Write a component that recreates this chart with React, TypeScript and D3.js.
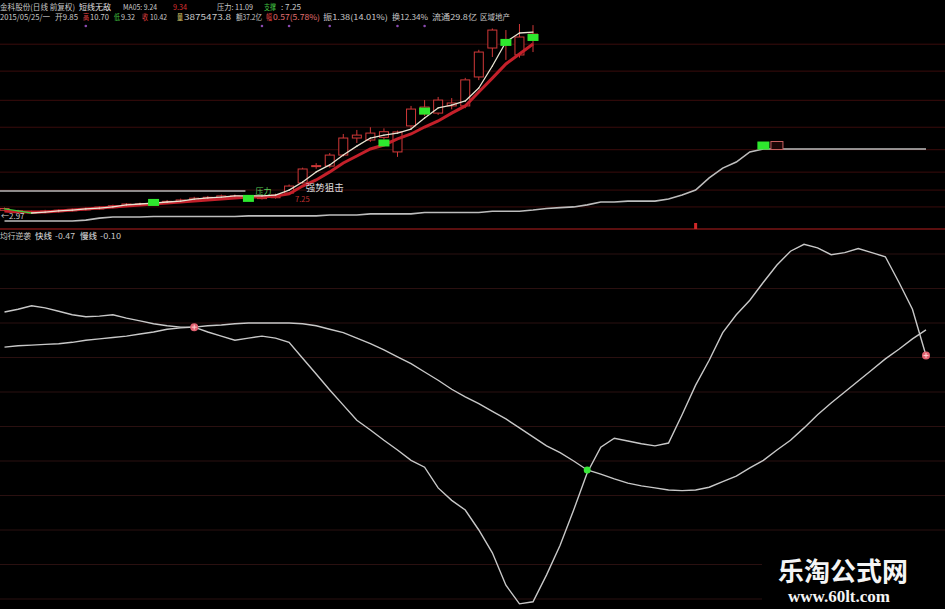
import React, { useRef, useEffect } from 'react';
import * as d3 from 'd3';

// 日K线 (前复权)
const candleOpen = [
  3.30, 3.22, 3.18, 3.22, 3.24, 3.28, 3.32, 3.36, 3.42, 3.48,
  3.52, 3.56, 3.62, 3.68, 3.74, 3.82, 3.86, 3.88, 3.84, 3.82,
  3.86, 4.07, 4.52, 5.25, 5.27, 5.76, 6.52, 6.43, 6.55, 5.90,
  7.06, 7.60, 7.63, 7.95, 7.95, 9.24, 10.53, 10.70, 10.22, 11.05,
];
const candleHigh = [
  3.42, 3.32, 3.28, 3.32, 3.34, 3.38, 3.42, 3.48, 3.55, 3.62,
  3.64, 3.70, 3.76, 3.82, 3.90, 3.94, 4.00, 4.00, 3.96, 3.94,
  4.04, 4.45, 5.20, 5.40, 5.85, 6.70, 6.88, 7.00, 6.95, 6.85,
  7.95, 8.21, 8.35, 8.30, 9.20, 10.45, 11.40, 11.33, 11.60, 11.55,
];
const candleLow = [
  3.26, 3.18, 3.14, 3.19, 3.20, 3.25, 3.29, 3.33, 3.39, 3.45,
  3.49, 3.52, 3.58, 3.64, 3.70, 3.78, 3.82, 3.84, 3.80, 3.78,
  3.82, 4.00, 4.48, 5.15, 5.20, 5.70, 6.30, 6.35, 6.45, 5.68,
  6.95, 7.50, 7.55, 7.80, 7.85, 9.10, 10.13, 10.00, 10.10, 10.35,
];
const candleClose = [
  3.38, 3.28, 3.24, 3.27, 3.30, 3.34, 3.38, 3.44, 3.50, 3.58,
  3.58, 3.64, 3.70, 3.76, 3.84, 3.88, 3.94, 3.94, 3.90, 3.88,
  3.98, 4.38, 5.14, 5.29, 5.76, 6.52, 6.65, 6.74, 6.80, 6.79,
  7.81, 7.90, 8.21, 8.08, 9.11, 10.35, 11.33, 10.90, 11.02, 11.15,
];

// 均线
const maFast = [
  3.36, 3.27, 3.18, 3.22, 3.27, 3.31, 3.36, 3.40, 3.45, 3.54,
  3.58, 3.62, 3.67, 3.71, 3.80, 3.85, 3.89, 3.94, 3.94, 3.94,
  3.98, 4.20, 4.56, 5.01, 5.32, 5.76, 6.16, 6.52, 6.65, 6.74,
  6.92, 7.41, 7.86, 7.99, 8.17, 8.75, 9.73, 10.80, 11.20, 11.24,
];
const maSlow = [
  3.27, 3.22, 3.22, 3.22, 3.27, 3.31, 3.36, 3.40, 3.45, 3.49,
  3.54, 3.58, 3.62, 3.67, 3.71, 3.76, 3.80, 3.85, 3.89, 3.89,
  3.94, 4.03, 4.38, 4.65, 5.01, 5.41, 5.72, 6.03, 6.21, 6.48,
  6.70, 7.01, 7.28, 7.63, 7.95, 8.57, 9.19, 9.82, 10.26, 10.71,
];

// 灰色趋势线
const trendLine = [
  2.82, 2.82, 2.82, 2.82, 2.82, 2.82, 2.86, 2.95, 3.00, 3.00,
  3.00, 3.02, 3.02, 3.02, 3.02, 3.02, 3.02, 3.02, 3.05, 3.05,
  3.05, 3.05, 3.05, 3.05, 3.09, 3.09, 3.09, 3.14, 3.14, 3.14,
  3.14, 3.20, 3.20, 3.20, 3.20, 3.20, 3.26, 3.26, 3.26, 3.31,
  3.38, 3.42, 3.45, 3.54, 3.67, 3.67, 3.71, 3.71, 3.71, 3.80,
  3.98, 4.20, 4.74, 5.18, 5.45, 5.90, 6.03, 6.03, 6.03, 6.03,
  6.03, 6.03, 6.03, 6.03, 6.03, 6.03, 6.03, 6.03, 6.03,
];

const levelPrice = 4.16;
const levelEndBar = 18;
const gridPrices = [10.7, 9.5, 8.2, 7.0, 6.0, 5.0, 4.2, 3.45];

const signalBars = [11, 18, 28, 31, 37, 39];
const signalPrices = [3.65, 3.83, 6.30, 7.72, 10.78, 11.0];
const trendBuyBars = [56];
const trendHoldBars = [57];
const alertBars = [51];
const topDotBars = [6, 19, 21, 24, 29, 31];

// 均行逆袭 快线 / 慢线
const fastLine = [
  0.16, 0.20, 0.25, 0.22, 0.17, 0.12, 0.09, 0.10, 0.12, 0.07,
  0.03, -0.01, -0.04, -0.06, -0.06, -0.13, -0.19, -0.25, -0.22, -0.19,
  -0.22, -0.28, -0.51, -0.74, -0.97, -1.19, -1.41, -1.55, -1.70, -1.84,
  -1.99, -2.09, -2.39, -2.57, -2.71, -3.00, -3.33, -3.80, -4.07, -4.04,
  -3.65, -3.22, -2.71, -2.17, -1.80, -1.67, -1.71, -1.75, -1.78, -1.74,
  -1.33, -0.90, -0.54, -0.14, 0.12, 0.33, 0.59, 0.84, 1.04, 1.14,
  1.09, 0.99, 1.02, 1.08, 1.02, 0.96, 0.59, 0.20, -0.47,
];
const slowLine = [
  -0.35, -0.33, -0.32, -0.31, -0.30, -0.28, -0.25, -0.23, -0.21, -0.19,
  -0.16, -0.13, -0.09, -0.07, -0.06, -0.04, -0.03, -0.01, 0.00, 0.00,
  0.00, 0.00, -0.01, -0.04, -0.09, -0.14, -0.22, -0.30, -0.39, -0.49,
  -0.59, -0.71, -0.83, -0.96, -1.07, -1.17, -1.28, -1.39, -1.52, -1.65,
  -1.78, -1.88, -2.00, -2.13, -2.19, -2.26, -2.32, -2.36, -2.39, -2.42,
  -2.43, -2.42, -2.38, -2.30, -2.22, -2.10, -1.99, -1.84, -1.70, -1.52,
  -1.33, -1.16, -1.00, -0.84, -0.68, -0.52, -0.38, -0.23, -0.10,
];
const indicatorTicks = [1, 0.5, 0, -0.5, -1, -1.5, -2, -2.5, -3, -3.5, -4];
const goldCrossBars = [43];
const deadCrossBars = [14, 68];

const W = 945;
const H = 609;
const CJK = '"Noto Sans CJK SC", "Noto Sans", sans-serif';

const App: React.FC = () => {
  const svgRef = useRef<SVGSVGElement>(null);

  useEffect(() => {
    document.body.style.margin = '0';
    document.body.style.background = '#000';
    if (!svgRef.current) return;
    const svg = d3.select(svgRef.current);
    svg.selectAll('*').remove();

    const x = d3.scaleLinear().domain([0, 68]).range([4.5, 926]);
    const yPrice = d3.scaleLinear().domain([2.6, 11.6]).range([226, 24]);
    const yInd = d3.scaleLinear().domain([-4, 1]).range([599, 254]);

    svg.append('rect').attr('width', W).attr('height', H).attr('fill', '#000');

    // grid lines (top)
    svg.append('g')
      .selectAll('line')
      .data(gridPrices)
      .join('line')
      .attr('x1', 0).attr('x2', W)
      .attr('y1', d => yPrice(d)).attr('y2', d => yPrice(d))
      .attr('stroke', '#3a0c0c')
      .attr('stroke-width', 1);

    // grid lines (bottom)
    svg.append('g')
      .selectAll('line')
      .data(indicatorTicks)
      .join('line')
      .attr('x1', 0).attr('x2', W)
      .attr('y1', d => yInd(d)).attr('y2', d => yInd(d))
      .attr('stroke', '#2a1010')
      .attr('stroke-width', 1);

    // panel separator
    svg.append('line')
      .attr('x1', 0).attr('x2', W)
      .attr('y1', 229).attr('y2', 229)
      .attr('stroke', '#7a1414')
      .attr('stroke-width', 1.5);

    const top = svg.append('g');

    // level line + trend line
    top.append('line')
      .attr('x1', 0).attr('x2', x(levelEndBar) - 3)
      .attr('y1', yPrice(levelPrice)).attr('y2', yPrice(levelPrice))
      .attr('stroke', '#b8b8b8')
      .attr('stroke-width', 1.5);

    const priceLine = d3.line<number>()
      .x((_, i) => x(i))
      .y(d => yPrice(d));

    top.append('path')
      .datum(trendLine)
      .attr('d', priceLine)
      .attr('fill', 'none')
      .attr('stroke', '#bdbdbd')
      .attr('stroke-width', 1.6);

    // candles
    const bodyW = 9;
    candleOpen.forEach((o, i) => {
      const c = candleClose[i];
      const cx = x(i);
      const yTop = yPrice(Math.max(o, c));
      const yBot = yPrice(Math.min(o, c));
      const color = '#d03838';
      top.append('line')
        .attr('x1', cx).attr('x2', cx)
        .attr('y1', yPrice(candleHigh[i])).attr('y2', yTop)
        .attr('stroke', color);
      top.append('line')
        .attr('x1', cx).attr('x2', cx)
        .attr('y1', yBot).attr('y2', yPrice(candleLow[i]))
        .attr('stroke', color);
      top.append('rect')
        .attr('x', cx - bodyW / 2)
        .attr('y', yTop)
        .attr('width', bodyW)
        .attr('height', Math.max(1, yBot - yTop))
        .attr('fill', c >= o ? '#000' : color)
        .attr('stroke', color)
        .attr('stroke-width', 1);
    });

    // slow MA (thick red)
    top.append('path')
      .datum(maSlow)
      .attr('d', priceLine)
      .attr('fill', 'none')
      .attr('stroke', '#c4202a')
      .attr('stroke-width', 3);

    // fast MA (white, green when falling)
    maFast.slice(1).forEach((v, k) => {
      const prev = maFast[k];
      top.append('line')
        .attr('x1', x(k)).attr('y1', yPrice(prev))
        .attr('x2', x(k + 1)).attr('y2', yPrice(v))
        .attr('stroke', v < prev ? '#3ccf3c' : '#e8e4d2')
        .attr('stroke-width', 1.3)
        .attr('stroke-linecap', 'round');
    });

    // signal boxes
    signalBars.forEach((b, k) => {
      top.append('rect')
        .attr('x', x(b) - 5.5)
        .attr('y', yPrice(signalPrices[k]) - 3.5)
        .attr('width', 11)
        .attr('height', 7)
        .attr('fill', '#2ee82e');
    });
    trendBuyBars.forEach(b => {
      top.append('rect')
        .attr('x', x(b) - 6).attr('y', yPrice(trendLine[b]) - 7.5)
        .attr('width', 12).attr('height', 8)
        .attr('fill', '#2ee82e');
    });
    trendHoldBars.forEach(b => {
      top.append('rect')
        .attr('x', x(b) - 6).attr('y', yPrice(trendLine[b]) - 7.5)
        .attr('width', 12).attr('height', 8)
        .attr('fill', '#1a0606')
        .attr('stroke', '#c86060');
    });
    alertBars.forEach(b => {
      top.append('rect')
        .attr('x', x(b) - 1.5).attr('y', 223)
        .attr('width', 3).attr('height', 6)
        .attr('fill', '#d02828');
    });
    topDotBars.forEach(b => {
      top.append('circle')
        .attr('cx', x(b)).attr('cy', 26)
        .attr('r', 1.3)
        .attr('fill', '#8a4ab0');
    });

    // small labels
    top.append('text')
      .attr('x', x(22) + 3).attr('y', 191)
      .attr('font-family', CJK).attr('font-size', 9.5)
      .attr('fill', '#dcdcdc')
      .text('强势狙击');
    top.append('text')
      .attr('x', x(18) + 7).attr('y', 194)
      .attr('font-family', CJK).attr('font-size', 8)
      .attr('fill', '#5acc5a')
      .text('压力');
    top.append('text')
      .attr('x', x(21) + 6).attr('y', 202)
      .attr('font-family', CJK).attr('font-size', 7.5)
      .attr('fill', '#c03030')
      .text('7.25');
    top.append('text')
      .attr('x', 1).attr('y', 219)
      .attr('font-family', CJK).attr('font-size', 8)
      .attr('fill', '#c8c8c8')
      .text('←2.97');

    // header texts, each fitted to the width it takes in the original
    const header = svg.append('g')
      .attr('font-family', CJK)
      .attr('font-size', 8)
      .attr('fill', '#c8c8c8');
    const put = (tx: number, ty: number, s: string, len: number, fill?: string) => {
      const t = header.append('text')
        .attr('x', tx).attr('y', ty)
        .attr('textLength', len)
        .attr('lengthAdjust', 'spacingAndGlyphs')
        .text(s);
      if (fill) t.attr('fill', fill);
    };
    put(0, 10, '金科股份(日线 前复权)', 75);
    put(79, 10, '短线无敌', 32, '#e0e0e0');
    put(123, 10, 'MA05: 9.24', 34);
    put(173, 10, '9.34', 14, '#d83030');
    put(217, 10, '压力: 11.09', 36);
    put(264, 10, '支撑', 12, '#40c040');
    put(281, 10, ': 7.25', 20);

    put(0, 20, '2015/05/25/一', 50);
    put(55, 20, '开9.85', 23);
    put(83, 20, '高', 6, '#e04040');
    put(90, 20, '10.70', 19);
    put(114, 20, '低', 6, '#40c040');
    put(121, 20, '9.32', 14);
    put(142, 20, '收', 6, '#e04040');
    put(150, 20, '10.42', 17);
    put(177, 20, '量', 6, '#e0d070');
    put(184, 20, '3875473.8', 47);
    put(236, 20, '额37.2亿', 26);
    put(266, 20, '幅', 6, '#e04040');
    put(273, 20, '0.57(5.78%)', 47, '#e07070');
    put(323, 20, '振1.38(14.01%)', 65);
    put(392, 20, '换12.34%', 36);
    put(432, 20, '流通29.8亿', 45);
    put(480, 20, '区域地产', 30);

    // lower panel header
    put(0, 239, '均行逆袭', 31);
    put(35, 239, '快线', 17, '#e8e8e8');
    put(55, 239, '-0.47', 20);
    put(80, 239, '慢线', 17, '#e8e8e8');
    put(100, 239, '-0.10', 21);

    // indicator lines
    const indLine = d3.line<number>()
      .x((_, i) => x(i))
      .y(d => yInd(d));

    const bottom = svg.append('g');
    bottom.append('path')
      .datum(slowLine)
      .attr('d', indLine)
      .attr('fill', 'none')
      .attr('stroke', '#c8c8c8')
      .attr('stroke-width', 1.4);
    bottom.append('path')
      .datum(fastLine)
      .attr('d', indLine)
      .attr('fill', 'none')
      .attr('stroke', '#c8c8c8')
      .attr('stroke-width', 1.4);

    goldCrossBars.forEach(b => {
      bottom.append('circle')
        .attr('cx', x(b)).attr('cy', yInd(slowLine[b]))
        .attr('r', 3.5)
        .attr('fill', '#38e838');
    });
    deadCrossBars.forEach(b => {
      const cx = x(b);
      const cy = yInd(fastLine[b]);
      bottom.append('circle')
        .attr('cx', cx).attr('cy', cy)
        .attr('r', 4)
        .attr('fill', '#e06070');
      bottom.append('path')
        .attr('d', `M${cx - 2.5},${cy}H${cx + 2.5}M${cx},${cy - 2.5}V${cy + 2.5}`)
        .attr('stroke', '#ffd0d0')
        .attr('stroke-width', 1);
    });

    // watermark
    const wm = svg.append('g');
    wm.append('rect')
      .attr('x', 762).attr('y', 548)
      .attr('width', W - 762).attr('height', H - 548)
      .attr('fill', '#000');
    wm.append('text')
      .attr('x', 843).attr('y', 581)
      .attr('text-anchor', 'middle')
      .attr('font-family', CJK)
      .attr('font-weight', 'bold')
      .attr('font-size', 26)
      .attr('fill', '#f4f4f4')
      .text('乐淘公式网');
    wm.append('text')
      .attr('x', 839).attr('y', 602)
      .attr('text-anchor', 'middle')
      .attr('font-family', '"Liberation Serif", "DejaVu Serif", serif')
      .attr('font-weight', 'bold')
      .attr('font-size', 17)
      .attr('fill', '#f4f4f4')
      .text('www.60lt.com');
  }, []);

  return (
    <div style={{ position: 'absolute', left: 0, top: 0, width: W, height: H, background: '#000' }}>
      <svg ref={svgRef} width={W} height={H} style={{ display: 'block' }} />
    </div>
  );
};

export default App;
